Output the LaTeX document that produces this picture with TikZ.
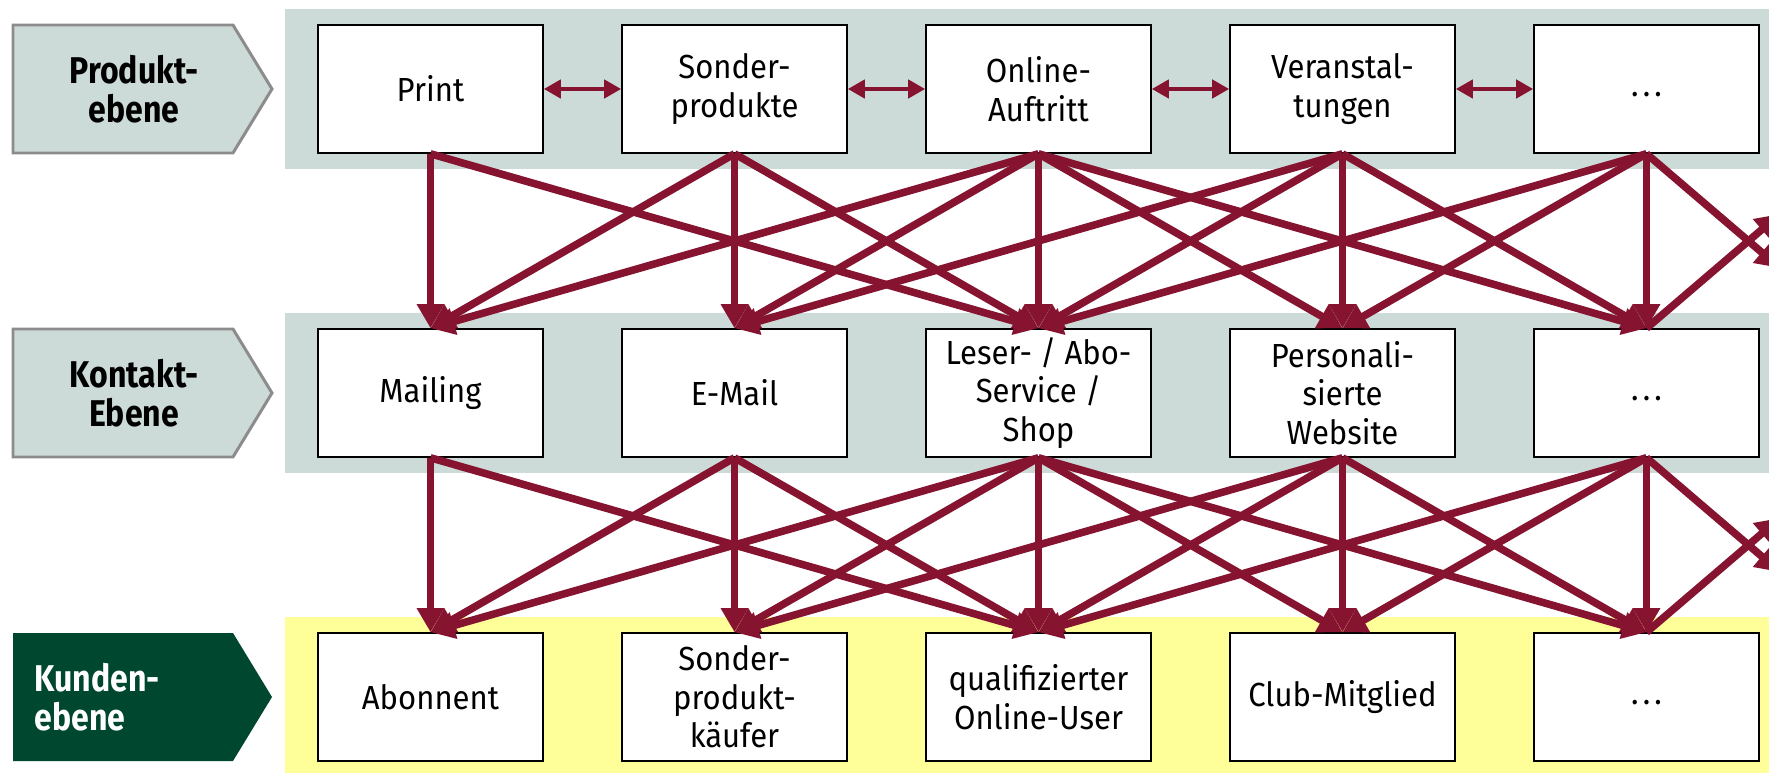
\documentclass[tikz,border=0pt]{standalone}
\usepackage{fontspec}
\setmainfont{Fira Sans}
\newfontfamily\boxfont[FakeStretch=0.93]{Fira Sans}
\newfontfamily\levelfont[FakeStretch=0.86]{Fira Sans}
\usetikzlibrary{arrows.meta}
\definecolor{bandgray}{HTML}{CDDBD8}
\definecolor{bandyellow}{HTML}{FFFF99}
\definecolor{darkgreen}{HTML}{00472F}
\definecolor{wine}{HTML}{86132F}
\definecolor{framegray}{HTML}{8C8C8C}
\newcommand{\more}{\vphantom{Pg}.\kern1.2pt.\kern1.2pt.}
\tikzset{
  box/.style={draw=black, line width=0.45pt, fill=white, minimum width=2.25cm,
    minimum height=1.28cm, inner sep=0pt, align=center,
    font=\boxfont\fontsize{9.5}{11}\selectfont},
  levellabel/.style={font=\levelfont\bfseries\fontsize{10.6}{11.2}\selectfont,
    align=center, inner sep=0pt},
  link/.style={wine, line width=2.15pt, -{Triangle[length=0.24cm, width=0.26cm]}},
  twoway/.style={wine, line width=1.3pt,
    {Triangle[length=0.17cm, width=0.18cm]}-{Triangle[length=0.17cm, width=0.18cm]}},
}

\begin{document}
\begin{tikzpicture}
	\useasboundingbox (0,0) rectangle (17.69,7.73);

	% bands behind the three levels
	\fill[bandgray] (2.85,6.04) rectangle (17.69,7.64);
	\fill[bandgray] (2.85,3.00) rectangle (17.69,4.60);
	\fill[bandyellow] (2.85,0) rectangle (17.69,1.56);

	% level labels
	\draw[framegray, line width=0.85pt, fill=bandgray] (0.13,6.20) -- (2.33,6.20) -- (2.72,6.84) -- (2.33,7.48) -- (0.13,7.48) -- cycle;
	\draw[framegray, line width=0.85pt, fill=bandgray] (0.13,3.16) -- (2.33,3.16) -- (2.72,3.80) -- (2.33,4.44) -- (0.13,4.44) -- cycle;
	\fill[darkgreen] (0.13,0.12) -- (2.33,0.12) -- (2.72,0.76) -- (2.33,1.40) -- (0.13,1.40) -- cycle;
	\node[levellabel] (lp) at (1.34,6.84) {Produkt-\\ebene};
	\node[levellabel] (lk) at (1.34,3.80) {Kontakt-\\Ebene};
	\node[levellabel, white, align=left, anchor=west] (lc) at (0.34,0.76) {Kunden-\\ebene};

	% Produktebene
	\node[box] (p0) at (4.305,6.84) {Print};
	\node[box] (p1) at (7.345,6.84) {Sonder-\\produkte};
	\node[box] (p2) at (10.385,6.84) {Online-\\Auftritt};
	\node[box] (p3) at (13.425,6.84) {Veranstal-\\tungen};
	\node[box] (p4) at (16.465,6.84) {\more};

	% Kontaktebene
	\node[box] (k0) at (4.305,3.80) {Mailing};
	\node[box] (k1) at (7.345,3.80) {E-Mail};
	\node[box] (k2) at (10.385,3.80) {Leser- / Abo-\\Service /\\Shop};
	\node[box] (k3) at (13.425,3.80) {Personali-\\sierte\\Website};
	\node[box] (k4) at (16.465,3.80) {\more};

	% Kundenebene
	\node[box] (c0) at (4.305,0.76) {Abonnent};
	\node[box] (c1) at (7.345,0.76) {Sonder-\\produkt-\\käufer};
	\node[box] (c2) at (10.385,0.76) {qualifizierter\\Online-User};
	\node[box] (c3) at (13.425,0.76) {Club-Mitglied};
	\node[box] (c4) at (16.465,0.76) {\more};

	\foreach \a/\b in {0/1,1/2,2/3,3/4}
		\draw[twoway] (p\a.east) -- (p\b.west);

	\foreach \s/\t in {0/0,0/2,1/0,1/1,1/2,2/0,2/1,2/2,2/3,2/4,3/1,3/2,3/3,3/4,4/2,4/3,4/4}
	{
		\draw[link] (p\s.south) -- (k\t.north);
		\draw[link] (k\s.south) -- (c\t.north);
	}

	% arrows leaving the picture on the right
	\coordinate (pout) at (17.80,5.05);
	\coordinate (kin) at (17.80,5.59);
	\coordinate (kout) at (17.80,2.01);
	\coordinate (cin) at (17.80,2.55);
	\draw[link] (p4.south) -- (pout);
	\draw[link] (k4.north) -- (kin);
	\draw[link] (k4.south) -- (kout);
	\draw[link] (c4.north) -- (cin);

\end{tikzpicture}
\end{document}
